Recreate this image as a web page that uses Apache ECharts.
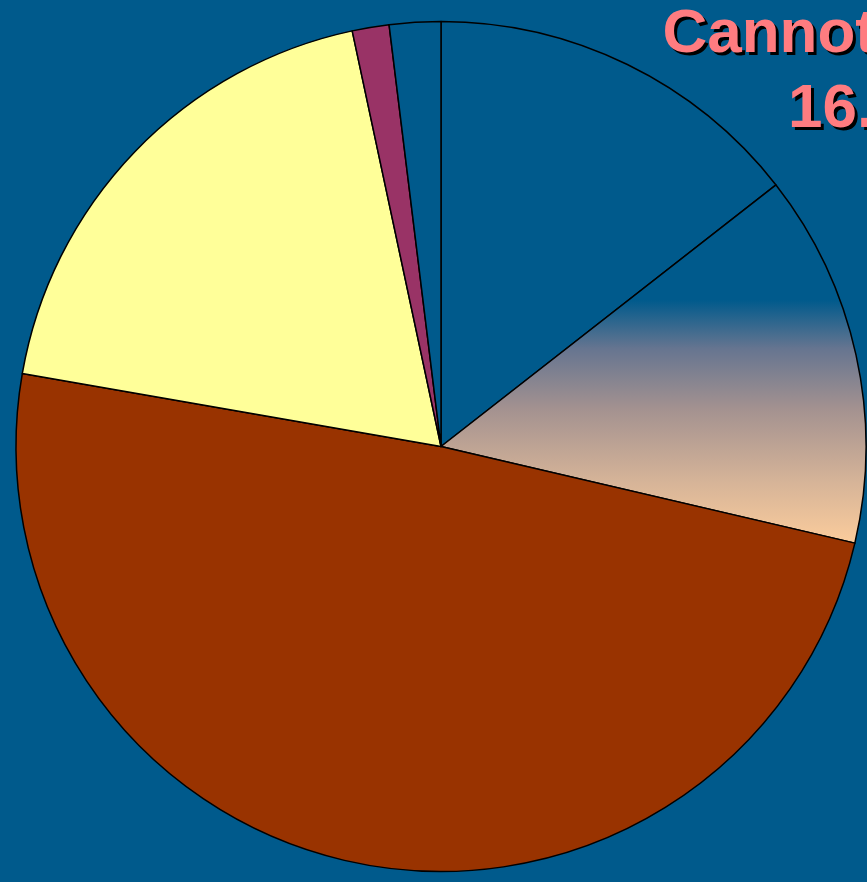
<!DOCTYPE html>
<html>
<head>
<meta charset="utf-8">
<title>Pie</title>
<script src="https://cdn.jsdelivr.net/npm/echarts@6/dist/echarts.min.js"></script>
<style>
  html, body { margin: 0; padding: 0; background: #005a8c; }
  #chart { width: 867px; height: 882px; }
</style>
</head>
<body>
<div id="chart"></div>
<script>
// slices, clockwise from 12 o'clock
const names = ['Cannot decide', 'Slice B', 'Slice C', 'Slice D', 'Slice E', 'Slice F'];
const values = [14.45, 14.2, 49.1, 18.9, 1.4, 1.95];
const labelText = ['Cannot decide\n16.4%', '', '', '', '', ''];

const BG = '#005a8c';

const gradient = new echarts.graphic.LinearGradient(0, 300, 0, 543, [
  { offset: 0, color: BG },
  { offset: 0.2, color: '#667590' },
  { offset: 0.45, color: '#a49290' },
  { offset: 0.75, color: '#d6b498' },
  { offset: 1, color: '#fbcc9c' }
], true);

const colors = [BG, gradient, '#993300', '#ffff99', '#993366', BG];

const chart = echarts.init(document.getElementById('chart'));

const option = {
  backgroundColor: BG,
  animation: false,
  series: [
    {
      type: 'pie',
      center: [441, 446.5],
      radius: 425,
      startAngle: 90,
      clockwise: true,
      avoidLabelOverlap: false,
      itemStyle: {
        borderColor: '#000',
        borderWidth: 1.5
      },
      emphasis: { disabled: true },
      labelLine: { show: false },
      label: {
        show: true,
        formatter: (p) => labelText[p.dataIndex],
        fontFamily: 'Liberation Sans, Arial, sans-serif',
        fontWeight: 'bold',
        fontSize: 62,
        lineHeight: 75,
        color: '#ff7c80',
        textShadowColor: 'rgba(0,0,0,1)',
        textShadowOffsetX: 3,
        textShadowOffsetY: 3,
        textShadowBlur: 0.5
      },
      labelLayout: (params) => {
        if (params.dataIndex !== 0) return {};
        return { x: 876, y: -3, align: 'center', verticalAlign: 'top' };
      },
      data: values.map((v, i) => ({
        name: names[i],
        value: v,
        itemStyle: { color: colors[i] },
        label: { show: labelText[i] !== '' }
      }))
    }
  ]
};

chart.setOption(option);
</script>
</body>
</html>
